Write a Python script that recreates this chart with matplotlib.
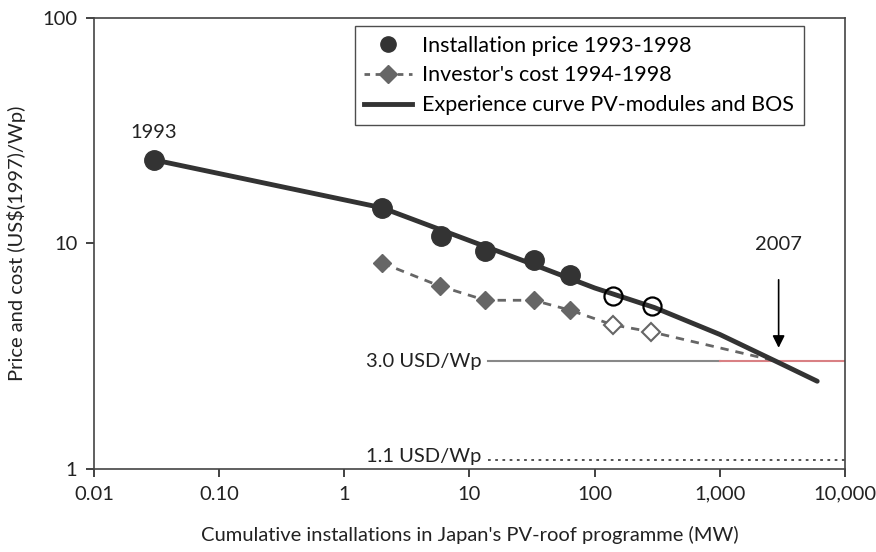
import matplotlib.pyplot as plt
from matplotlib.ticker import FixedLocator, NullLocator

plt.rcParams["font.family"] = ["Lato", "DejaVu Sans"]

# Dados
inst_x = [0.03, 2, 5.9, 13.4, 32.5, 63]
inst_y = [23.5, 14.4, 10.8, 9.3, 8.45, 7.25]
inst_open_x = [139, 286]
inst_open_y = [5.85, 5.29]

inv_x = [2, 5.8, 13.4, 32.5, 63]
inv_y = [8.2, 6.47, 5.6, 5.6, 5.07]
inv_open_x = [139, 280]
inv_open_y = [4.36, 4.06]
inv_ext_x = [2900]
inv_ext_y = [3.0]

curva_x = [0.03, 2, 10, 30, 100, 300, 1000, 3000, 6000]
curva_y = [23.5, 14.4, 10.3, 8.2, 6.35, 5.2, 3.95, 2.95, 2.45]

meta_alta = 3.0
meta_baixa = 1.1

xticks = [0.01, 0.1, 1, 10, 100, 1000, 10000]
xlabels = ["0.01", "0.10", "1", "10", "100", "1,000", "10,000"]
yticks = [1, 10, 100]
ylabels = ["1", "10", "100"]

fs = 15.5
fs_eixo = 14.5

fig = plt.figure(figsize=(8.76, 5.52), dpi=100)
ax = fig.add_axes([0.1073, 0.1504, 0.8573, 0.817])
ax.set_xscale("log")
ax.set_yscale("log")
ax.set_xlim(0.01, 10000)
ax.set_ylim(1, 100)

escuro = "#333333"
cinza = "#666666"

# linhas de meta
ax.plot([14, 1000], [meta_alta, meta_alta], color="#888888", lw=1.5, zorder=1)
ax.plot([1000, 10000], [meta_alta, meta_alta], color="#d98084", lw=1.5, zorder=1)
ax.plot([14, 10000], [meta_baixa, meta_baixa], color="#444444", lw=1.3,
        ls=(0, (1.5, 2.5)), zorder=1)
ax.text(12.5, meta_alta, "3.0 USD/Wp", fontsize=fs_eixo, ha="right", va="center", color="#222222")
ax.text(12.5, meta_baixa * 1.03, "1.1 USD/Wp", fontsize=fs_eixo, ha="right", va="center", color="#222222")

# custo do investidor
ax.plot(inv_x + inv_open_x + inv_ext_x, inv_y + inv_open_y + inv_ext_y, color=cinza,
        lw=2, ls=(0, (3, 2.5)), zorder=2)
ax.plot(inv_x, inv_y, ls="none", marker="D", ms=9, color=cinza, zorder=3)
ax.plot(inv_open_x, inv_open_y, ls="none", marker="D", ms=9, mfc="white",
        mec=cinza, mew=1.5, zorder=3)

# curva de experiencia
ax.plot(curva_x, curva_y, color=escuro, lw=3.5, solid_capstyle="round", zorder=4)

# preco de instalacao
ax.plot(inst_x, inst_y, ls="none", marker="o", ms=14, color=escuro, zorder=5)
ax.plot(inst_open_x, inst_open_y, ls="none", marker="o", ms=13, mfc="none",
        mec="black", mew=1.6, zorder=5)

# legenda
h1, = ax.plot([], [], ls="none", marker="o", ms=11, color=escuro)
h2, = ax.plot([], [], color=cinza, lw=2, ls=(0, (2, 2)), marker="D", ms=9)
h3, = ax.plot([], [], color=escuro, lw=3.5)
leg = ax.legend([h1, h2, h3],
                ["Installation price 1993-1998", "Investor's cost 1994-1998",
                 "Experience curve PV-modules and BOS"],
                loc="upper right", bbox_to_anchor=(0.9455, 0.982), fontsize=fs,
                frameon=True, fancybox=False, handlelength=2.2, handletextpad=0.5,
                borderpad=0.45, labelspacing=0.45, borderaxespad=0)
leg.get_frame().set_edgecolor("#222222")
leg.get_frame().set_linewidth(1.0)

# anotacoes
ax.text(0.03, 31, "1993", fontsize=fs_eixo, ha="center", va="center", color="#222222")
ax.text(2950, 9.9, "2007", fontsize=fs_eixo, ha="center", va="center", color="#222222")
ax.annotate("", xy=(2950, 3.35), xytext=(2950, 7.1),
            arrowprops=dict(arrowstyle="-|>", color="black", lw=1.2, mutation_scale=18))

ax.xaxis.set_major_locator(FixedLocator(xticks))
ax.xaxis.set_minor_locator(NullLocator())
ax.set_xticklabels(xlabels)
ax.yaxis.set_major_locator(FixedLocator(yticks))
ax.yaxis.set_minor_locator(NullLocator())
ax.set_yticklabels(ylabels)
ax.tick_params(axis="both", direction="out", length=6, width=1.2, labelsize=fs_eixo,
               colors="#222222", pad=6)

for s in ax.spines.values():
    s.set_color("#444444")
    s.set_linewidth(1.2)

ax.set_xlabel("Cumulative installations in Japan's PV-roof programme (MW)", fontsize=fs_eixo,
              color="#222222", labelpad=17)
ax.set_ylabel("Price and cost (US$(1997)/Wp)", fontsize=fs_eixo, color="#222222", labelpad=12)

fig.savefig("out.png", dpi=100)
